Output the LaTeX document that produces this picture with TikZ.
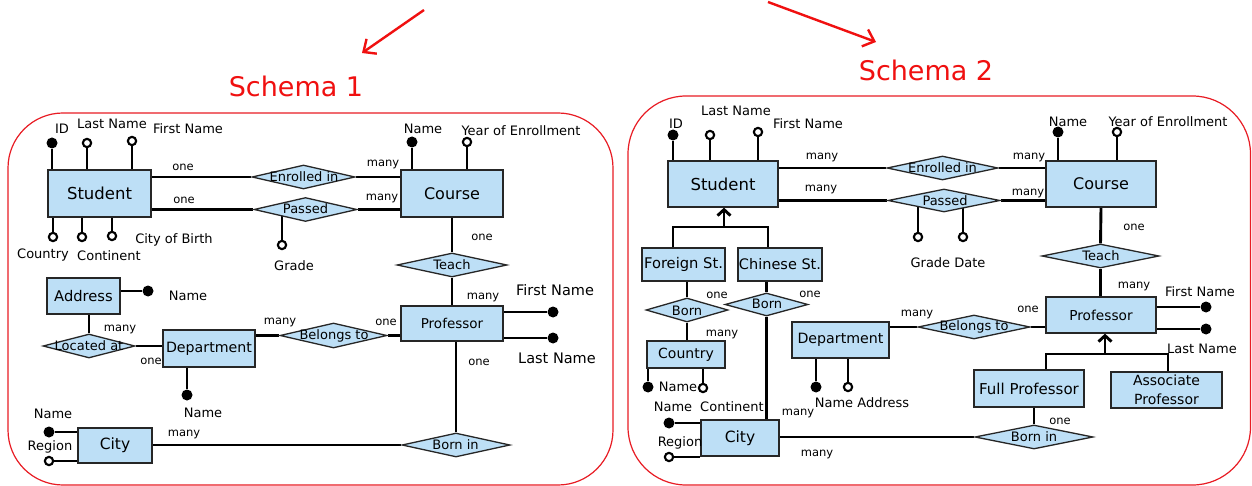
\documentclass[tikz,border=0pt]{standalone}
\usepackage{fontspec}
\setmainfont{DejaVu Sans}
\usetikzlibrary{shapes.geometric,arrows.meta}

\definecolor{erfill}{RGB}{189,223,246}
\definecolor{framered}{RGB}{232,28,36}
\definecolor{titlered}{RGB}{240,16,16}
\newcommand{\fsz}[2]{\fontsize{#1}{#2}\selectfont}

\pgfdeclarelayer{back}
\pgfdeclarelayer{wires}
\pgfsetlayers{back,wires,main}

\tikzset{
  ent/.style={rectangle, draw=black!85, line width=1.3pt, fill=erfill, inner sep=0pt, font=\fsz{15}{18}},
  rel/.style={diamond, draw=black!85, line width=1.3pt, fill=erfill, inner sep=0pt},
  rtext/.style={font=\fsz{13}{15}, inner sep=0pt},
  lbl/.style={font=\fsz{13}{15}, inner sep=0pt},
  card/.style={font=\fsz{11.5}{13}, inner sep=0pt},
  conn/.style={line width=2.9pt},
  keyatt/.style={circle, fill=black, minimum size=11pt, inner sep=0pt},
  optatt/.style={circle, draw=black, fill=white, line width=2.1pt, minimum size=8.3pt, inner sep=0pt},
  isatip/.style={-{Straight Barb[length=6pt,width=13pt]}},
  frameline/.style={draw=framered, line width=1.2pt, rounded corners=#1},
  titlearrow/.style={draw=titlered, line width=2.4pt, -{Straight Barb[length=10pt,width=18pt]}},
}

\begin{document}
\begin{tikzpicture}[x=1pt,y=-1pt]
\useasboundingbox (0,0) rectangle (1252,486);
\begin{pgfonlayer}{back}
  \fill[white] (0,0) rectangle (1252,486);
\end{pgfonlayer}

% ---------- titles ----------
\node[text=titlered, font=\fsz{27}{32}, inner sep=0pt] (t1) at (296,86) {Schema 1};
\node[text=titlered, font=\fsz{27}{32}, inner sep=0pt] (t2) at (926,70) {Schema 2};
\coordinate (a1s) at (424,10);
\coordinate (a1e) at (362,53);
\coordinate (a2s) at (768,2);
\coordinate (a2e) at (876,42);
\draw[titlearrow] (a1s) -- (a1e);
\draw[titlearrow] (a2s) -- (a2e);

% ---------- frames ----------
\draw[frameline=55pt] (8,113) rectangle (613,485);
\draw[frameline=58pt] (628,96) rectangle (1250.5,485);

% ================= Schema 1 =================
\node[ent, minimum width=103pt, minimum height=47pt, font=\fsz{16.5}{20}] (stuA) at (99.5,193.5) {Student};
\node[ent, minimum width=102pt, minimum height=47pt, font=\fsz{16}{20}] (crsA) at (452,193.5) {Course};
\node[ent, minimum width=73pt, minimum height=36pt, font=\fsz{14.7}{18}] (adrA) at (83.5,296) {Address};
\node[ent, minimum width=92pt, minimum height=37pt, font=\fsz{14.2}{18}] (depA) at (209,348.5) {Department};
\node[ent, minimum width=74pt, minimum height=35pt, font=\fsz{15.5}{18}] (cityA) at (115,445.5) {City};
\node[ent, minimum width=102pt, minimum height=35pt, font=\fsz{13.5}{16}] (proA) at (452,323.5) {Professor};

\node[rel, minimum width=103pt, minimum height=24pt] (enrA) at (303.5,177) {};
\node[rel, minimum width=103pt, minimum height=24pt] (pasA) at (305.5,209.5) {};
\node[rel, minimum width=110pt, minimum height=24pt] (teaA) at (452,265) {};
\node[rel, minimum width=108pt, minimum height=24pt] (borA) at (456,445) {};
\node[rel, minimum width=92pt, minimum height=24pt] (locA) at (89,346) {};
\node[rel, minimum width=107pt, minimum height=25pt] (belA) at (333.5,335.5) {};

\node[rtext] (enrAt) at (304,177) {Enrolled in};
\node[rtext] (pasAt) at (305.5,209) {Passed};
\node[rtext] (teaAt) at (452,265) {Teach};
\node[rtext] (borAt) at (455.5,445) {Born in};
\node[rtext] (locAt) at (89,346) {Located at};
\node[rtext] (belAt) at (334,336) {Belongs to};

% attributes
\node[keyatt] (idA) at (52,143) {};
\node[optatt] (lnA) at (87,143) {};
\node[optatt] (fnA) at (132,141) {};
\node[optatt] (coA) at (53,237) {};
\node[optatt] (ctA) at (82,237) {};
\node[optatt] (cbA) at (112,236) {};
\node[optatt] (grA) at (282,245) {};
\node[keyatt] (cnmA) at (412,142) {};
\node[optatt] (yeA) at (467,142) {};
\node[keyatt] (pfA) at (553,312) {};
\node[keyatt] (plA) at (553,338) {};
\node[keyatt] (anA) at (148,291) {};
\node[keyatt] (dnA) at (187,395) {};
\node[keyatt] (cinA) at (49,432) {};
\node[optatt] (cirA) at (49,461) {};

% labels
\node[lbl] (lIdA) at (62,129) {ID};
\node[lbl] (lLnA) at (112,124) {Last Name};
\node[lbl] (lFnA) at (188,129) {First Name};
\node[lbl] (lCoA) at (43,255) {Country};
\node[lbl] (lCtA) at (109,256) {Continent};
\node[lbl] (lCbA) at (174,240) {City of Birth};
\node[lbl] (lGrA) at (294,266) {Grade};
\node[lbl] (lCnA) at (423,129) {Name};
\node[lbl] (lYeA) at (521,131) {Year of Enrollment};
\node[lbl, font=\fsz{14.5}{17}] (lPfA) at (555,290) {First Name};
\node[lbl, font=\fsz{14.5}{17}] (lPlA) at (557,358) {Last Name};
\node[lbl] (lAnA) at (188,296) {Name};
\node[lbl] (lDnA) at (203,413) {Name};
\node[lbl] (lCinA) at (53,414) {Name};
\node[lbl] (lCirA) at (50,447) {Region};

\node[card] (c1A) at (183,167) {one};
\node[card] (c2A) at (184,200) {one};
\node[card] (c3A) at (383,164) {many};
\node[card] (c4A) at (382,198) {many};
\node[card] (c5A) at (482,237) {one};
\node[card] (c6A) at (483,297) {many};
\node[card] (c7A) at (386,322) {one};
\node[card] (c8A) at (280,322) {many};
\node[card] (c9A) at (120,329) {many};
\node[card] (c10A) at (151,361) {one};
\node[card] (c11A) at (479,362) {one};
\node[card] (c12A) at (184,434) {many};

\begin{pgfonlayer}{wires}
  \draw[conn] (enrA.west) -- (enrA.west -| stuA.east);
  \draw[conn] (enrA.east) -- (enrA.east -| crsA.west);
  \draw[conn] (pasA.west) -- (pasA.west -| stuA.east);
  \draw[conn] (pasA.east) -- (pasA.east -| crsA.west);
  \draw[conn] (crsA.south) -- (teaA.north);
  \draw[conn] (teaA.south) -- (proA.north);
  \draw[conn] (borA.north) -- (borA.north |- proA.south);
  \draw[conn] (borA.west) -- (borA.west -| cityA.east);
  \draw[conn] (locA.north) -- (locA.north |- adrA.south);
  \draw[conn] (locA.east) -- (locA.east -| depA.west);
  \draw[conn] (belA.west) -- (belA.west -| depA.east);
  \draw[conn] (belA.east) -- (belA.east -| proA.west);
  \draw[conn] (idA) -- (idA |- stuA.north);
  \draw[conn] (lnA) -- (lnA |- stuA.north);
  \draw[conn] (fnA) -- (fnA |- stuA.north);
  \draw[conn] (coA) -- (coA |- stuA.south);
  \draw[conn] (ctA) -- (ctA |- stuA.south);
  \draw[conn] (cbA) -- (cbA |- stuA.south);
  \draw[conn] (grA) -- (grA |- pasA.center);
  \draw[conn] (cnmA) -- (cnmA |- crsA.north);
  \draw[conn] (yeA) -- (yeA |- crsA.north);
  \draw[conn] (pfA) -- (pfA -| proA.east);
  \draw[conn] (plA) -- (plA -| proA.east);
  \draw[conn] (anA) -- (anA -| adrA.east);
  \draw[conn] (dnA) -- (dnA |- depA.south);
  \draw[conn] (cinA) -- (cinA -| cityA.west);
  \draw[conn] (cirA) -- (cirA -| cityA.west);
\end{pgfonlayer}

% ================= Schema 2 =================
\node[ent, minimum width=110pt, minimum height=46pt, font=\fsz{16.5}{20}] (stuB) at (723,184) {Student};
\node[ent, minimum width=110pt, minimum height=46pt, font=\fsz{16}{20}] (crsB) at (1101,184) {Course};
\node[ent, minimum width=110pt, minimum height=36pt, font=\fsz{13.7}{16}] (proB) at (1101,315) {Professor};
\node[ent, minimum width=110pt, minimum height=37pt, font=\fsz{15}{18}] (fulB) at (1029,388.5) {Full Professor};
\node[ent, minimum width=111pt, minimum height=36pt, font=\fsz{14}{19}, align=center] (assB) at (1166.5,390) {Associate\\Professor};
\node[ent, minimum width=83pt, minimum height=33pt, font=\fsz{14.7}{18}] (forB) at (683.5,264.5) {Foreign St.};
\node[ent, minimum width=84pt, minimum height=33pt, font=\fsz{14.5}{18}] (chiB) at (780,264.5) {Chinese St.};
\node[ent, minimum width=78pt, minimum height=27pt, font=\fsz{14}{17}] (couB) at (686,354.5) {Country};
\node[ent, minimum width=97pt, minimum height=36pt, font=\fsz{14.2}{18}] (depB) at (840.5,340) {Department};
\node[ent, minimum width=78pt, minimum height=36pt, font=\fsz{15.5}{18}] (cityB) at (740,438) {City};

\node[rel, minimum width=111pt, minimum height=24pt] (enrB) at (942.5,168) {};
\node[rel, minimum width=112pt, minimum height=23pt] (pasB) at (944,200.5) {};
\node[rel, minimum width=117pt, minimum height=24pt] (teaB) at (1100.5,256) {};
\node[rel, minimum width=112pt, minimum height=24pt] (belB) at (974,327) {};
\node[rel, minimum width=118pt, minimum height=24pt] (borB) at (1034,437) {};
\node[rel, minimum width=82pt, minimum height=24pt] (bo1B) at (687,310) {};
\node[rel, minimum width=83pt, minimum height=23pt] (bo2B) at (766.5,304.5) {};

\node[rtext] (enrBt) at (942.5,168) {Enrolled in};
\node[rtext] (pasBt) at (945,201) {Passed};
\node[rtext] (teaBt) at (1101,256) {Teach};
\node[rtext] (belBt) at (974,327) {Belongs to};
\node[rtext] (borBt) at (1034,437) {Born in};
\node[rtext] (bo1Bt) at (687,310.5) {Born};
\node[rtext] (bo2Bt) at (767,304) {Born};

% attributes
\node[keyatt] (idB) at (673,135) {};
\node[optatt] (lnB) at (710,135) {};
\node[optatt] (fnB) at (758,132) {};
\node[keyatt] (cnmB) at (1058,132) {};
\node[optatt] (yeB) at (1117,132) {};
\node[optatt] (grB) at (918,237) {};
\node[optatt] (dtB) at (963,237) {};
\node[keyatt] (pfB) at (1206,307) {};
\node[keyatt] (plB) at (1206,329) {};
\node[keyatt] (dnB) at (816,387) {};
\node[optatt] (daB) at (848,387) {};
\node[keyatt] (conB) at (648,387) {};
\node[optatt] (cocB) at (703,388) {};
\node[keyatt] (cinB) at (669,423) {};
\node[optatt] (cirB) at (669,457) {};

% labels
\node[lbl] (lIdB) at (676,124) {ID};
\node[lbl] (lLnB) at (736,111) {Last Name};
\node[lbl] (lFnB) at (808,124) {First Name};
\node[lbl] (lCnB) at (1068,122) {Name};
\node[lbl] (lYeB) at (1168,122) {Year of Enrollment};
\node[lbl] (lGdB) at (948,263) {Grade Date};
\node[lbl] (lPfB) at (1200,292) {First Name};
\node[lbl] (lPlB) at (1202,349) {Last Name};
\node[lbl] (lDnB) at (862,403) {Name Address};
\node[lbl] (lConB) at (678,387) {Name};
\node[lbl] (lCocB) at (732,407) {Continent};
\node[lbl] (lCinB) at (673,407) {Name};
\node[lbl] (lCirB) at (680,443) {Region};

\node[card] (c1B) at (822,157) {many};
\node[card] (c2B) at (821,189) {many};
\node[card] (c3B) at (1029,157) {many};
\node[card] (c4B) at (1028,193) {many};
\node[card] (c5B) at (1134,227) {one};
\node[card] (c6B) at (1134,286) {many};
\node[card] (c7B) at (1028,309) {one};
\node[card] (c8B) at (917,314) {many};
\node[card] (c9B) at (717,295) {one};
\node[card] (c10B) at (722,334) {many};
\node[card] (c11B) at (810,294) {one};
\node[card] (c12B) at (798,413) {many};
\node[card] (c13B) at (817,454) {many};
\node[card] (c14B) at (1060,421) {one};

% generalisation bars
\coordinate (isaSl) at (673,227);
\coordinate (isaSr) at (768,227);
\coordinate (isaS) at (724,227);
\coordinate (isaPl) at (1046,354);
\coordinate (isaPr) at (1168,354);
\coordinate (isaP) at (1105,354);

\begin{pgfonlayer}{wires}
  \draw[conn] (enrB.west) -- (enrB.west -| stuB.east);
  \draw[conn] (enrB.east) -- (enrB.east -| crsB.west);
  \draw[conn] (pasB.west) -- (pasB.west -| stuB.east);
  \draw[conn] (pasB.east) -- (pasB.east -| crsB.west);
  \draw[conn] (crsB.south) -- (teaB.north);
  \draw[conn] (teaB.south) -- (teaB.south |- proB.north);
  \draw[conn] (belB.west) -- (belB.west -| depB.east);
  \draw[conn] (belB.east) -- (belB.east -| proB.west);
  \draw[conn] (borB.north) -- (borB.north |- fulB.south);
  \draw[conn] (borB.west) -- (borB.west -| cityB.east);
  \draw[conn] (bo1B.north) -- (bo1B.north |- forB.south);
  \draw[conn] (bo1B.south) -- (bo1B.south |- couB.north);
  \draw[conn] (bo2B.north) -- (bo2B.north |- chiB.south);
  \draw[conn] (bo2B.south) -- (bo2B.south |- cityB.north);
  \draw[conn] (isaSl |- forB.north) -- (isaSl) -- (isaSr) -- (isaSr |- chiB.north);
  \draw[conn, isatip] (isaS) -- (isaS |- stuB.south);
  \draw[conn] (isaPl |- fulB.north) -- (isaPl) -- (isaPr) -- (isaPr |- assB.north);
  \draw[conn, isatip] (isaP) -- (isaP |- proB.south);
  \draw[conn] (idB) -- (idB |- stuB.north);
  \draw[conn] (lnB) -- (lnB |- stuB.north);
  \draw[conn] (fnB) -- (fnB |- stuB.north);
  \draw[conn] (cnmB) -- (cnmB |- crsB.north);
  \draw[conn] (yeB) -- (yeB |- crsB.north);
  \draw[conn] (grB) -- (grB |- pasB.center);
  \draw[conn] (dtB) -- (dtB |- pasB.center);
  \draw[conn] (pfB) -- (pfB -| proB.east);
  \draw[conn] (plB) -- (plB -| proB.east);
  \draw[conn] (dnB) -- (dnB |- depB.south);
  \draw[conn] (daB) -- (daB |- depB.south);
  \draw[conn] (conB) -- (conB |- couB.south);
  \draw[conn] (cocB) -- (cocB |- couB.south);
  \draw[conn] (cinB) -- (cinB -| cityB.west);
  \draw[conn] (cirB) -- (cirB -| cityB.west);
\end{pgfonlayer}
\end{tikzpicture}
\end{document}
